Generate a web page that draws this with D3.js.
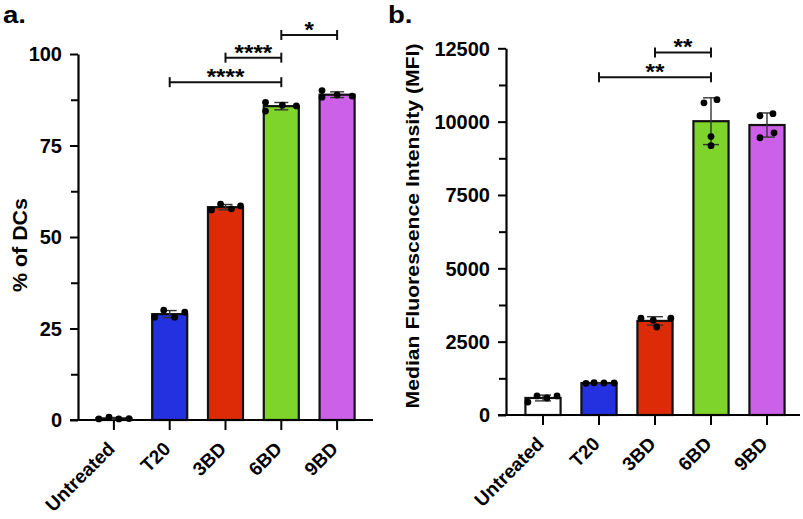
<!DOCTYPE html>
<html><head><meta charset="utf-8">
<script src="https://cdn.jsdelivr.net/npm/d3@7"></script>
<style>body{margin:0;background:#fff}svg{display:block}text{font-family:"Liberation Sans",Arial,sans-serif;font-weight:bold;fill:#000}</style>
</head><body><svg id="c" width="803" height="519"></svg>
<script>
// ---- data ----
const categories = ["Untreated","T20","3BD","6BD","9BD"];
const barColors = ["#ffffff","#2331e0","#dc2b06","#7ed42a","#cd60e8"];
// panel a: % of DCs, replicate values per group
const pctDCs = [
  [0.3, 0.8, 0.3, 0.4],
  [28.1, 30.0, 28.1, 29.5],
  [57.4, 59.0, 57.7, 58.5],
  [86.8, 84.4, 86.0, 85.8],
  [90.0, 88.2, 88.8, 88.5]
];
const pctJitter = [
  [-0.43,-0.14,0.14,0.43],
  [-0.43,-0.17,0.14,0.43],
  [-0.40,-0.14,0.17,0.43],
  [-0.45,-0.45,0.03,0.43],
  [-0.43,-0.43,0.0,0.43]
];
// panel b: MFI replicate values
const mfi = [
  [440, 650, 580, 650],
  [1080, 1100, 1090, 1090],
  [3300, 3230, 3000, 3300],
  [10640, 10750, 9490, 9180],
  [10200, 10270, 9450, 9620]
];
const mfiJitter = [
  [-0.43,-0.17,0.11,0.40],
  [-0.37,-0.14,0.14,0.43],
  [-0.40,-0.05,0.05,0.45],
  [-0.2,0.17,0.0,0.0],
  [-0.2,0.17,-0.2,0.2]
];
const pctTicks = [0,25,50,75,100];
const pctMinor = [12.5,37.5,62.5,87.5];
const mfiTicks = [0,2500,5000,7500,10000,12500];
const mfiMinor = [1250,3750,6250,8750,11250];
const pctSig = [
  {from:"T20", to:"6BD", y:92.3, label:"****"},
  {from:"3BD", to:"6BD", y:99.0, label:"****"},
  {from:"6BD", to:"9BD", y:105.2, label:"*"}
];
const mfiSig = [
  {from:"T20", to:"6BD", y:11510, label:"**"},
  {from:"3BD", to:"6BD", y:12360, label:"**"}
];

const svg = d3.select("#c");
function stretch(sel, k){
  sel.each(function(){
    const L = this.getComputedTextLength();
    d3.select(this).attr("textLength", L*k).attr("lengthAdjust","spacingAndGlyphs");
  });
}

function panel(o){
  const g = svg.append("g");
  const x = d3.scaleBand().domain(categories).range(o.xr).paddingInner(0.372).paddingOuter(0.186);
  const y = d3.scaleLinear().domain(o.domain).range(o.yr);
  const bw = x.bandwidth();
  const cx = c => x(c)+bw/2;
  const means = o.values.map(v=>d3.mean(v));
  const sds = o.values.map(v=>d3.deviation(v));

  // y axis
  const ya = g.append("g").attr("transform",`translate(${o.ax},0)`)
    .call(d3.axisLeft(y).tickValues(o.ticks).tickSize(8).tickSizeOuter(0).tickPadding(8).tickFormat(d3.format("d")));
  ya.select(".domain").attr("stroke-width",2.2);
  ya.selectAll(".tick line").attr("stroke-width",2);
  ya.selectAll(".tick text").attr("font-size",20).attr("font-family",null).attr("fill","#000").attr("dy","0.34em");
  const ym = g.append("g").attr("transform",`translate(${o.ax},0)`)
    .call(d3.axisLeft(y).tickValues(o.minor).tickSize(7).tickSizeOuter(0).tickFormat(""));
  ym.select(".domain").remove();
  ym.selectAll(".tick line").attr("stroke-width",2);

  // bars
  g.selectAll("rect.bar").data(categories).join("rect").attr("class","bar")
    .attr("x",d=>x(d)).attr("width",bw)
    .attr("y",(d,i)=>y(means[i])).attr("height",(d,i)=>y(0)-y(means[i]))
    .attr("fill",(d,i)=>barColors[i]).attr("stroke","#111").attr("stroke-width",2.2);

  // x axis line
  g.append("line").attr("x1",o.ax-8).attr("x2",o.xEnd).attr("y1",y(0)).attr("y2",y(0))
    .attr("stroke","#000").attr("stroke-width",2.2);
  const xa = g.append("g").attr("transform",`translate(0,${y(0)})`)
    .call(d3.axisBottom(x).tickSize(10).tickSizeOuter(0).tickFormat(""));
  xa.select(".domain").remove();
  xa.selectAll(".tick line").attr("stroke-width",2);
  g.selectAll("text.xl").data(categories).join("text").attr("class","xl")
    .attr("text-anchor","end").attr("font-size",19)
    .attr("transform",d=>`translate(${cx(d)+2},${y(0)+30}) rotate(-45)`)
    .text(d=>d);

  // error bars
  categories.forEach((c,i)=>{
    const xc = cx(c), cw = o.cap;
    const top = y(means[i]+sds[i]), bot = y(Math.max(0,means[i]-sds[i]));
    const eg = g.append("g").attr("stroke","#333").attr("stroke-width",1.4);
    eg.append("line").attr("x1",xc).attr("x2",xc).attr("y1",top).attr("y2",bot);
    eg.append("line").attr("x1",xc-cw/2).attr("x2",xc+cw/2).attr("y1",top).attr("y2",top);
    eg.append("line").attr("x1",xc-cw/2).attr("x2",xc+cw/2).attr("y1",bot).attr("y2",bot);
  });
  // points
  categories.forEach((c,i)=>{
    g.selectAll(null).data(o.values[i]).join("circle")
      .attr("cx",(d,j)=>cx(c)+o.jitter[i][j]*bw).attr("cy",d=>y(d)).attr("r",3.4).attr("fill","#000");
  });
  // significance
  o.sig.forEach(s=>{
    const x1 = cx(s.from), x2 = cx(s.to), yy = y(s.y);
    const sg = g.append("g").attr("stroke","#111").attr("stroke-width",2);
    sg.append("line").attr("x1",x1).attr("x2",x2).attr("y1",yy).attr("y2",yy);
    sg.append("line").attr("x1",x1).attr("x2",x1).attr("y1",yy-5).attr("y2",yy+5);
    sg.append("line").attr("x1",x2).attr("x2",x2).attr("y1",yy-5).attr("y2",yy+5);
    g.append("text").attr("x",(x1+x2)/2).attr("y",yy+2).attr("text-anchor","middle")
      .attr("font-size",22).text(s.label).call(stretch,1.1);
  });
  // y title
  g.append("text").attr("text-anchor","middle").attr("font-size",o.tfs)
    .attr("transform",`translate(${o.tx},${o.ty}) rotate(-90)`).text(o.title)
    .attr("textLength",o.tlen).attr("lengthAdjust","spacingAndGlyphs");
  // panel letter
  g.append("text").attr("x",o.lx).attr("y",23).attr("font-size",24).text(o.letter).call(stretch,1.15);
}

panel({values:pctDCs, jitter:pctJitter, domain:[0,100], yr:[420,54], xr:[86,365], ax:78, xEnd:373,
  ticks:pctTicks, minor:pctMinor, sig:pctSig, cap:14, title:"% of DCs", tfs:20, tx:27, ty:245, tlen:94,
  letter:"a.", lx:3});
panel({values:mfi, jitter:mfiJitter, domain:[0,12500], yr:[415,48.3], xr:[515,795], ax:506, xEnd:800,
  ticks:mfiTicks, minor:mfiMinor, sig:mfiSig, cap:16, title:"Median Fluorescence Intensity (MFI)", tfs:18, tx:419, ty:226, tlen:365,
  letter:"b.", lx:388});
</script></body></html>
